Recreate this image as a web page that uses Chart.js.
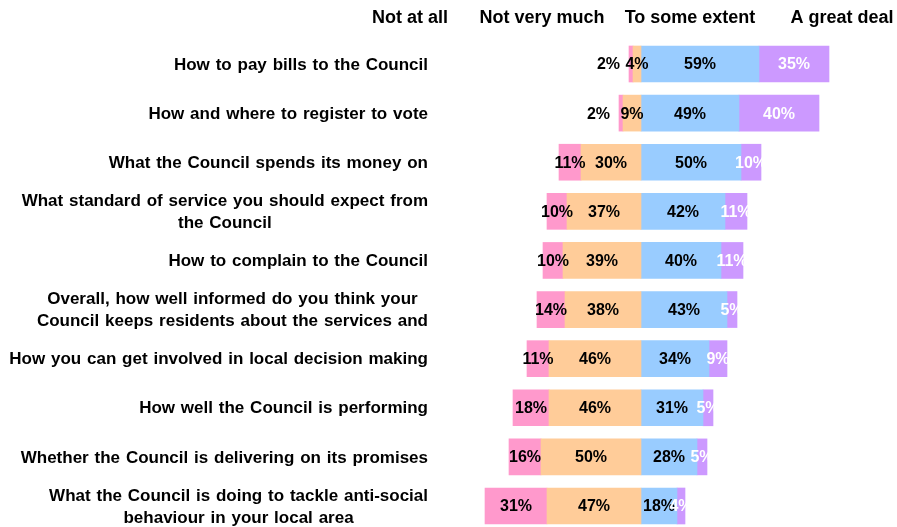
<!DOCTYPE html>
<html>
<head>
<meta charset="utf-8">
<title>Awareness of Council information</title>
<script src="https://cdn.jsdelivr.net/npm/chart.js@4/dist/chart.umd.min.js"></script>
<style>
  html, body { margin: 0; padding: 0; background: #ffffff; }
  canvas { display: block; }
</style>
</head>
<body>
<canvas id="chart" width="897" height="527"></canvas>
<script>
// Survey questions (multi-line entries are wrapped labels)
const questions = [
  'How to pay bills to the Council',
  'How and where to register to vote',
  'What the Council spends its money on',
  ['What standard of service you should expect from', 'the Council'],
  'How to complain to the Council',
  ['Overall, how well informed do you think your', 'Council keeps residents about the services and'],
  'How you can get involved in local decision making',
  'How well the Council is performing',
  'Whether the Council is delivering on its promises',
  ['What the Council is doing to tackle anti-social', 'behaviour in your local area']
];

// Response levels shown as column headings
const responseLevels = ['Not at all', 'Not very much', 'To some extent', 'A great deal'];

// Percentages per response level
const notAtAll     = [2, 2, 11, 10, 10, 14, 11, 18, 16, 31];
const notVeryMuch  = [4, 9, 30, 37, 39, 38, 46, 46, 50, 47];
const toSomeExtent = [59, 49, 50, 42, 40, 43, 34, 31, 28, 18];
const aGreatDeal   = [35, 40, 10, 11, 11, 5, 9, 5, 5, 4];

const FONT = "'Liberation Sans', Arial, Helvetica, sans-serif";

// Negative responses extend left of zero, positive ones to the right.
// Dataset order sets the stacking order outward from zero.
const series = [
  { name: responseLevels[1], values: notVeryMuch,  sign: -1, color: '#FFCC99', text: '#000000' },
  { name: responseLevels[0], values: notAtAll,     sign: -1, color: '#FF99CC', text: '#000000', outsideAtOrBelow: 2 },
  { name: responseLevels[2], values: toSomeExtent, sign: 1,  color: '#99CCFF', text: '#000000' },
  { name: responseLevels[3], values: aGreatDeal,   sign: 1,  color: '#CC99FF', text: '#FFFFFF' }
];

// Column heading anchors, in x-axis units
const headingAnchors = [-115.5, -49.5, 24.5, 100.5];

const valueLabels = {
  id: 'valueLabels',
  afterDatasetsDraw(chart) {
    const ctx = chart.ctx;
    ctx.save();
    ctx.font = 'bold 16px ' + FONT;
    ctx.textBaseline = 'middle';
    series.forEach((s, di) => {
      const meta = chart.getDatasetMeta(di);
      meta.data.forEach((bar, i) => {
        const v = s.values[i];
        const left = Math.min(bar.x, bar.base);
        const right = Math.max(bar.x, bar.base);
        let x = (left + right) / 2;
        let align = 'center';
        if (s.outsideAtOrBelow && v <= s.outsideAtOrBelow) {
          x = left - 9;
          align = 'right';
        }
        ctx.textAlign = align;
        ctx.fillStyle = s.text;
        ctx.fillText(v + '%', x, bar.y + 1);
      });
    });
    ctx.restore();
  }
};

const questionLabels = {
  id: 'questionLabels',
  afterDraw(chart) {
    const ctx = chart.ctx;
    const yScale = chart.scales.y;
    const rightEdge = chart.chartArea.left - 13;
    const lineHeight = 22;
    ctx.save();
    ctx.font = 'bold 17px ' + FONT;
    if ('wordSpacing' in ctx) ctx.wordSpacing = '1.1px';
    ctx.fillStyle = '#000000';
    ctx.textBaseline = 'middle';
    ctx.textAlign = 'center';
    questions.forEach((q, i) => {
      const lines = Array.isArray(q) ? q : [q];
      const widest = Math.max(...lines.map(l => ctx.measureText(l).width));
      const cx = rightEdge - widest / 2;
      const cy = yScale.getPixelForValue(i);
      const y0 = cy - (lines.length - 1) * lineHeight / 2;
      lines.forEach((l, k) => ctx.fillText(l, cx, y0 + k * lineHeight + 1));
    });

    // Column headings
    if ('wordSpacing' in ctx) ctx.wordSpacing = '0px';
    const xScale = chart.scales.x;
    ctx.font = 'bold 18px ' + FONT;
    responseLevels.forEach((h, k) => {
      ctx.fillText(h, xScale.getPixelForValue(headingAnchors[k]), 18);
    });
    ctx.restore();
  }
};

new Chart(document.getElementById('chart'), {
  type: 'bar',
  data: {
    labels: questions,
    datasets: series.map(s => ({
      label: s.name,
      data: s.values.map(v => s.sign * v),
      backgroundColor: s.color,
      borderWidth: 0,
      barThickness: 36,
      clip: false
    }))
  },
  options: {
    indexAxis: 'y',
    responsive: false,
    animation: false,
    devicePixelRatio: 1,
    layout: { padding: { left: 441, right: 6, top: 64, bottom: 21 } },
    scales: {
      x: { type: 'linear', stacked: true, min: -100, max: 125, display: false },
      y: { type: 'category', stacked: true, offset: false, display: false }
    },
    plugins: {
      legend: { display: false },
      tooltip: { enabled: false }
    }
  },
  plugins: [valueLabels, questionLabels]
});
</script>
</body>
</html>
